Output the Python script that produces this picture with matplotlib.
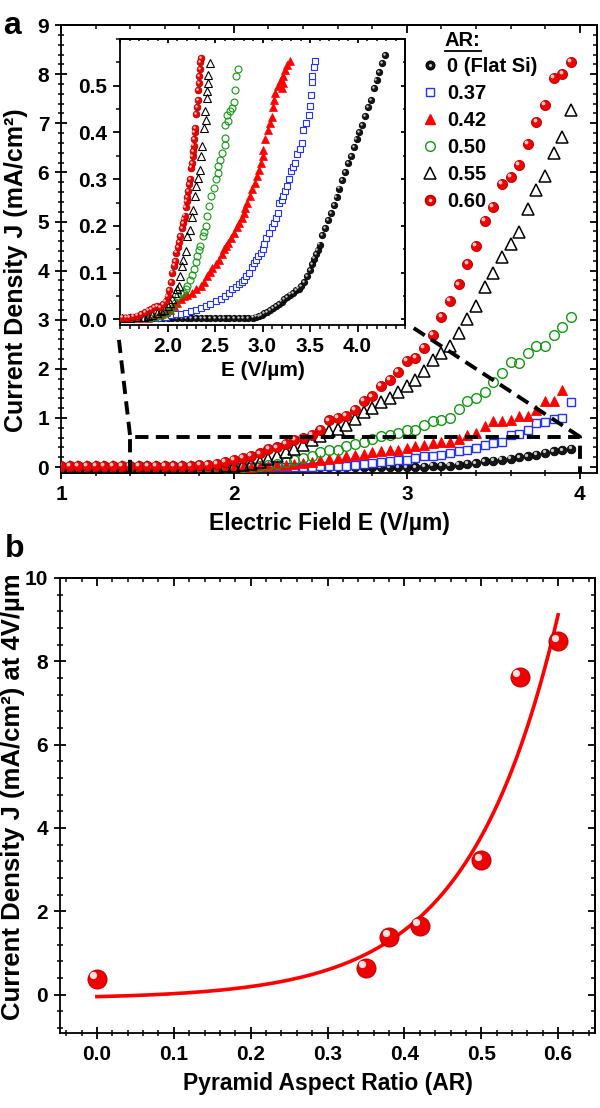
import matplotlib
matplotlib.use('Agg')
import matplotlib.pyplot as plt
import numpy as np
from matplotlib.transforms import offset_copy
from matplotlib.ticker import MultipleLocator, FixedLocator, FormatStrFormatter
from matplotlib.lines import Line2D

plt.rcParams['font.family'] = ['Liberation Sans', 'DejaVu Sans']
plt.rcParams['font.weight'] = 'bold'
plt.rcParams['axes.linewidth'] = 1.3

# ---------------- data: panel a (main) ----------------
E_main = np.round(1.0 + 0.05 * np.arange(60), 2)   # 1.00 ... 3.95 V/um

J_flat = [0.0] * 42 + [0.01, 0.03, 0.03, 0.03, 0.05, 0.07, 0.08, 0.12,
                       0.13, 0.15, 0.17, 0.20, 0.22, 0.25, 0.29, 0.32, 0.34, 0.37]
J_037 = [0.0] * 26 + [0.005, 0.01, 0.01, 0.01,
                      0.02, 0.02, 0.03, 0.03, 0.05, 0.07, 0.08, 0.10, 0.12, 0.14,
                      0.15, 0.18, 0.22, 0.23, 0.25, 0.29, 0.32, 0.34, 0.39, 0.44,
                      0.49, 0.52, 0.66, 0.68, 0.76, 0.90, 0.91, 0.98, 1.00, 1.32]
J_042 = [0.01] * 20 + [0.01, 0.01, 0.01, 0.02, 0.03, 0.04, 0.05, 0.07, 0.08, 0.10,
                       0.14, 0.16, 0.18, 0.22, 0.25, 0.27, 0.30, 0.32, 0.34, 0.35,
                       0.39, 0.42, 0.44, 0.49, 0.52, 0.52, 0.57, 0.66, 0.69, 0.83,
                       0.93, 0.93, 0.95, 1.05, 1.05, 1.17, 1.35, 1.35, 1.56]
J_050 = [0.01] * 20 + [0.01, 0.01, 0.02, 0.03, 0.05, 0.07, 0.10, 0.14, 0.18, 0.23,
                       0.30, 0.35, 0.35, 0.42, 0.47, 0.52, 0.58, 0.63, 0.66, 0.69,
                       0.76, 0.76, 0.86, 0.93, 0.95, 1.00, 1.19, 1.34, 1.41, 1.53,
                       1.73, 1.92, 2.14, 2.11, 2.33, 2.46, 2.46, 2.68, 2.85, 3.06]
J_055 = [0.01] * 19 + [0.02,
                       0.03, 0.04, 0.06, 0.10, 0.16, 0.22, 0.30, 0.37, 0.44, 0.56,
                       0.63, 0.73, 0.78, 0.86, 0.97, 1.12, 1.20, 1.32, 1.41, 1.52,
                       1.65, 1.78, 1.95, 2.18, 2.33, 2.46, 2.73, 3.02, 3.28, 3.67,
                       3.96, 4.27, 4.55, 4.78, 5.25, 5.64, 5.93, 6.40, 6.73, 7.27]
J_060 = [0.02] * 14 + [0.03, 0.03, 0.04, 0.05, 0.07, 0.10,
                       0.14, 0.18, 0.22, 0.28, 0.37, 0.40, 0.48, 0.56, 0.59, 0.65,
                       0.76, 0.95, 1.01, 1.05, 1.17, 1.34, 1.44, 1.66, 1.78, 1.93,
                       2.16, 2.22, 2.43, 2.69, 3.05, 3.38, 3.72, 4.13, 4.51, 5.02,
                       5.30, 5.76, 5.91, 6.15, 6.58, 7.03, 7.37, 7.92, 8.00, 8.25]

labels_AR = ['0 (Flat Si)', '0.37', '0.42', '0.50', '0.55', '0.60']

# ---------------- data: inset ----------------
Ei_flat = [1.50, 1.55, 1.60, 1.65, 1.70, 1.75, 1.80, 1.85, 1.90, 1.95, 2.00, 2.05, 2.10,
           2.15, 2.20, 2.25, 2.30, 2.35, 2.40, 2.45, 2.50, 2.55, 2.60, 2.65, 2.70, 2.75,
           2.80, 2.85, 2.90, 2.93, 2.96, 2.99, 3.02, 3.05, 3.08, 3.11, 3.14, 3.17, 3.20,
           3.23, 3.26, 3.29, 3.32, 3.35, 3.38, 3.41, 3.44, 3.47, 3.50, 3.52, 3.54, 3.56,
           3.58, 3.60, 3.63, 3.66, 3.69, 3.72, 3.75, 3.78, 3.81, 3.84, 3.87, 3.90, 3.93,
           3.96, 3.99, 4.02, 4.05, 4.08, 4.11, 4.14, 4.17, 4.20, 4.23, 4.26, 4.29]
Ji_flat = [0.002] * 28 + [0.004, 0.006, 0.008, 0.010, 0.013, 0.016, 0.020, 0.024, 0.028,
                          0.033, 0.038, 0.043, 0.048, 0.053, 0.057, 0.062, 0.066, 0.072,
                          0.080, 0.092, 0.105, 0.118, 0.130, 0.140, 0.148, 0.160, 0.180,
                          0.195, 0.212, 0.228, 0.245, 0.262, 0.280, 0.298, 0.316, 0.335,
                          0.350, 0.368, 0.385, 0.400, 0.415, 0.435, 0.455, 0.470, 0.495,
                          0.512, 0.530, 0.548, 0.565]
Ei_037 = [1.52, 1.62, 1.72, 1.82, 1.90, 1.98, 2.04, 2.09, 2.14, 2.19, 2.25, 2.30, 2.35,
          2.40, 2.45, 2.51, 2.56, 2.61, 2.65, 2.68, 2.72, 2.75, 2.78, 2.80, 2.83, 2.86,
          2.89, 2.91, 2.93, 2.95, 2.98, 3.00, 3.02, 3.04, 3.07, 3.10, 3.12, 3.14, 3.16,
          3.17, 3.20, 3.22, 3.24, 3.26, 3.28, 3.30, 3.32, 3.34, 3.36, 3.39, 3.42, 3.43,
          3.46, 3.49, 3.50, 3.51, 3.52, 3.52, 3.54, 3.55]
Ji_037 = [0.002, 0.002, 0.003, 0.003, 0.004, 0.006, 0.009, 0.011, 0.012, 0.014, 0.017,
          0.021, 0.024, 0.028, 0.033, 0.039, 0.044, 0.050, 0.057, 0.064, 0.070, 0.075,
          0.080, 0.085, 0.092, 0.100, 0.112, 0.121, 0.128, 0.135, 0.142, 0.150, 0.162,
          0.175, 0.185, 0.197, 0.207, 0.218, 0.228, 0.249, 0.256, 0.263, 0.275, 0.285,
          0.300, 0.317, 0.326, 0.335, 0.353, 0.365, 0.378, 0.406, 0.420, 0.438, 0.456,
          0.481, 0.509, 0.520, 0.541, 0.552]
Ei_042 = [1.52, 1.60, 1.70, 1.79, 1.86, 1.93, 1.98, 2.03, 2.07, 2.10, 2.14, 2.17, 2.21,
          2.26, 2.30, 2.35, 2.38, 2.42, 2.45, 2.47, 2.51, 2.54, 2.57, 2.59, 2.62, 2.64,
          2.67, 2.70, 2.73, 2.75, 2.78, 2.80, 2.82, 2.84, 2.87, 2.89, 2.92, 2.94, 2.96,
          2.98, 3.00, 3.01, 3.03, 3.06, 3.08, 3.10, 3.11, 3.12, 3.13, 3.16, 3.19, 3.20,
          3.22, 3.22, 3.24, 3.26, 3.29]
Ji_042 = [0.003, 0.003, 0.004, 0.004, 0.008, 0.011, 0.016, 0.021, 0.028, 0.036, 0.043,
          0.050, 0.053, 0.057, 0.064, 0.071, 0.080, 0.093, 0.102, 0.110, 0.119, 0.128,
          0.140, 0.150, 0.157, 0.164, 0.175, 0.185, 0.197, 0.207, 0.218, 0.228, 0.238,
          0.249, 0.264, 0.278, 0.292, 0.306, 0.320, 0.335, 0.350, 0.363, 0.385, 0.406,
          0.420, 0.434, 0.455, 0.470, 0.484, 0.500, 0.513, 0.495, 0.505, 0.520, 0.534,
          0.545, 0.552]
Ei_050 = [1.55, 1.65, 1.75, 1.82, 1.88, 1.93, 1.97, 2.00, 2.03, 2.05, 2.08, 2.11, 2.14,
          2.16, 2.19, 2.21, 2.24, 2.26, 2.28, 2.30, 2.31, 2.33, 2.34, 2.37, 2.38, 2.40,
          2.42, 2.44, 2.46, 2.49, 2.51, 2.53, 2.53, 2.55, 2.57, 2.60, 2.61, 2.61, 2.64,
          2.63, 2.66, 2.68, 2.70, 2.71, 2.72, 2.74]
Ji_050 = [0.002, 0.002, 0.002, 0.003, 0.005, 0.007, 0.011, 0.015, 0.020, 0.025, 0.035,
          0.050, 0.054, 0.057, 0.065, 0.071, 0.085, 0.095, 0.107, 0.122, 0.135, 0.148,
          0.157, 0.178, 0.188, 0.199, 0.221, 0.242, 0.263, 0.281, 0.300, 0.314, 0.328,
          0.342, 0.356, 0.374, 0.388, 0.417, 0.424, 0.438, 0.445, 0.452, 0.466, 0.490,
          0.520, 0.536]
Ei_055 = [1.52, 1.60, 1.68, 1.75, 1.79, 1.84, 1.89, 1.93, 1.96, 2.00, 2.03, 2.05, 2.08,
          2.10, 2.12, 2.13, 2.15, 2.16, 2.19, 2.21, 2.24, 2.26, 2.27, 2.29, 2.30, 2.32,
          2.34, 2.35, 2.36, 2.38, 2.40, 2.39, 2.42, 2.42, 2.43, 2.43, 2.45]
Ji_055 = [0.003, 0.004, 0.005, 0.006, 0.007, 0.010, 0.014, 0.018, 0.021, 0.028, 0.036,
          0.043, 0.057, 0.064, 0.071, 0.093, 0.114, 0.128, 0.146, 0.178, 0.192, 0.220,
          0.235, 0.263, 0.285, 0.303, 0.320, 0.349, 0.370, 0.410, 0.427, 0.445, 0.474,
          0.488, 0.505, 0.523, 0.548]
Ei_060 = [1.52, 1.56, 1.60, 1.64, 1.68, 1.72, 1.76, 1.80, 1.83, 1.86, 1.89, 1.92, 1.95,
          1.98, 2.00, 2.02, 2.04, 2.05, 2.07, 2.08, 2.09, 2.11, 2.12, 2.13, 2.15, 2.16,
          2.17, 2.18, 2.19, 2.20, 2.21, 2.22, 2.23, 2.24, 2.25, 2.26, 2.265, 2.27, 2.275,
          2.28, 2.285, 2.29, 2.30, 2.31, 2.32, 2.325, 2.33, 2.335, 2.34, 2.345, 2.35]
Ji_060 = [0.004, 0.004, 0.005, 0.006, 0.008, 0.012, 0.016, 0.020, 0.022, 0.026, 0.028,
          0.027, 0.032, 0.040, 0.050, 0.062, 0.080, 0.100, 0.115, 0.125, 0.143, 0.155,
          0.165, 0.178, 0.195, 0.206, 0.215, 0.222, 0.240, 0.253, 0.262, 0.275, 0.290,
          0.300, 0.325, 0.335, 0.350, 0.360, 0.372, 0.385, 0.400, 0.410, 0.440, 0.455,
          0.470, 0.490, 0.505, 0.520, 0.535, 0.550, 0.560]
inset_yticks = [0.0, 0.1, 0.2, 0.3, 0.4, 0.5]
inset_xticks = [2.0, 2.5, 3.0, 3.5, 4.0]

# zoom guide (dashed) in panel-a data units
box_E = [1.4, 1.4, 4.0, 4.0]
box_J = [-0.12, 0.62, 0.62, -0.12]
guide_left_E, guide_left_J = [1.335, 1.4], [2.59, 0.62]
guide_right_E, guide_right_J = [3.04, 4.0], [2.83, 0.62]

# ---------------- data: panel b ----------------
AR_b = [0.0, 0.35, 0.38, 0.42, 0.50, 0.55, 0.60]
J_b = [0.38, 0.65, 1.39, 1.65, 3.22, 7.63, 8.48]
# exponential fit: J = y0 + A*exp(AR/t)
fit_y0, fit_A, fit_t = -0.10, 0.0525, 0.1161

# ---------------- figure ----------------
fig = plt.figure(figsize=(6, 11.08), dpi=100)
axA = fig.add_axes([0.1017, 0.5731, 0.8933, 0.4043])
axB = fig.add_axes([0.1, 0.06769, 0.8917, 0.41065])
axI = fig.add_axes([0.2, 0.70668, 0.475, 0.2581])

RED = '#ff0000'
BLUE = '#2233ff'
GREEN = '#119911'


def spheres(ax, x, y, base, edge, hl, ms, z):
    ax.plot(x, y, 'o', ms=ms, mfc=base, mec=edge, mew=0.6, ls='none', zorder=z)
    tr = offset_copy(ax.transData, fig=fig, x=-ms * 0.18, y=ms * 0.18, units='points')
    ax.plot(x, y, 'o', ms=ms * 0.38, mfc=hl, mec='none', ls='none', transform=tr,
            zorder=z + 0.01)


def style_axes(ax, xmaj, xmin, ymaj, ymin, lb_dir='inout', tlen=9, mlen=5, fs=15):
    ax.xaxis.set_major_locator(MultipleLocator(xmaj))
    ax.xaxis.set_minor_locator(MultipleLocator(xmin))
    ax.yaxis.set_major_locator(MultipleLocator(ymaj))
    ax.yaxis.set_minor_locator(MultipleLocator(ymin))
    ax.tick_params(which='major', direction=lb_dir, length=tlen, width=1.3,
                   labelsize=fs, pad=4)
    ax.tick_params(which='minor', direction=lb_dir, length=mlen, width=1.1)
    sx = ax.secondary_xaxis('top')
    sx.xaxis.set_major_locator(MultipleLocator(xmaj))
    sx.xaxis.set_minor_locator(MultipleLocator(xmin))
    sx.tick_params(which='major', direction='in', length=tlen * 0.6, width=1.3,
                   labeltop=False)
    sx.tick_params(which='minor', direction='in', length=mlen * 0.6, width=1.1)
    sy = ax.secondary_yaxis('right')
    sy.yaxis.set_major_locator(MultipleLocator(ymaj))
    sy.yaxis.set_minor_locator(MultipleLocator(ymin))
    sy.tick_params(which='major', direction='in', length=tlen * 0.6, width=1.3,
                   labelright=False)
    sy.tick_params(which='minor', direction='in', length=mlen * 0.6, width=1.1)
    for s in list(sx.spines.values()) + list(sy.spines.values()):
        s.set_linewidth(1.3)


# ---- panel a ----
axA.set_xlim(1.0, 4.1)
axA.set_ylim(-0.12, 9)
style_axes(axA, 1, 0.2, 1, 0.2)
axA.xaxis.set_major_formatter(FormatStrFormatter('%d'))
axA.yaxis.set_major_formatter(FormatStrFormatter('%d'))

spheres(axA, E_main[:len(J_flat)], J_flat, '#151515', '#000000', '#c8c8c8', 6.2, 3)
axA.plot(E_main[:len(J_037)], J_037, 's', ms=6.0, mfc='white', mec=BLUE, mew=1.0,
         ls='none', zorder=4)
axA.plot(E_main[:len(J_042)], J_042, '^', ms=7.5, mfc=RED, mec=RED, mew=0.6,
         ls='none', zorder=5)
axA.plot(E_main[:len(J_050)], J_050, 'o', ms=7.0, mfc='none', mec=GREEN, mew=1.0,
         ls='none', zorder=6)
axA.plot(E_main[:len(J_055)], J_055, '^', ms=8.0, mfc='none', mec='black', mew=1.1,
         ls='none', zorder=7)
spheres(axA, E_main[:len(J_060)], J_060, '#f00000', '#b00000', '#ffc8c8', 7.3, 8)

dash = (0, (3.4, 1.9))
axA.plot(box_E, box_J, color='black', lw=2.8, ls=dash, zorder=10, clip_on=False)
axA.plot(guide_left_E, guide_left_J, color='black', lw=2.8, ls=dash, zorder=10)
axA.plot(guide_right_E, guide_right_J, color='black', lw=2.8, ls=dash, zorder=10)

axA.set_xlabel('Electric Field E (V/µm)', fontsize=16.5, fontweight='bold', labelpad=6)
axA.set_ylabel('Current Density J (mA/cm²)', fontsize=18, fontweight='bold')
axA.yaxis.set_label_coords(-0.0616, 0.453)

# legend
h_flat = (Line2D([], [], marker='o', ms=6.2, mfc='#151515', mec='black', ls='none'),
          Line2D([], [], marker='o', ms=2.2, mfc='#c8c8c8', mec='none', ls='none'))
h_037 = Line2D([], [], marker='s', ms=6.0, mfc='white', mec=BLUE, mew=1.0, ls='none')
h_042 = Line2D([], [], marker='^', ms=7.5, mfc=RED, mec=RED, ls='none')
h_050 = Line2D([], [], marker='o', ms=7.0, mfc='none', mec=GREEN, mew=1.0, ls='none')
h_055 = Line2D([], [], marker='^', ms=8.0, mfc='none', mec='black', mew=1.1, ls='none')
h_060 = (Line2D([], [], marker='o', ms=7.3, mfc='#f00000', mec='#b00000', ls='none'),
         Line2D([], [], marker='o', ms=2.6, mfc='#ffc8c8', mec='none', ls='none'))
leg = axA.legend([h_flat, h_037, h_042, h_050, h_055, h_060], labels_AR,
                 loc='upper left', bbox_to_anchor=(0.670, 0.928), frameon=False,
                 handlelength=1.0, handletextpad=0.35,
                 labelspacing=0.395, borderpad=0, borderaxespad=0,
                 prop={'weight': 'bold', 'size': 14.5})
ar_txt = axA.text(0.716, 0.966, 'AR:', transform=axA.transAxes,
                  fontsize=14.5, fontweight='bold', ha='left', va='center')

fig.text(0.005, 0.99, 'a', fontsize=23, fontweight='bold', va='top', ha='left')
fig.text(0.008, 0.518, 'b', fontsize=23, fontweight='bold', va='top', ha='left')

# ---- inset ----
axI.set_xlim(1.5, 4.5)
axI.set_ylim(-0.012, 0.6)
style_axes(axI, 0.5, 0.1, 0.1, 0.05, lb_dir='out', tlen=5, mlen=3, fs=15)
axI.xaxis.set_major_locator(FixedLocator(inset_xticks))
axI.yaxis.set_major_locator(FixedLocator(inset_yticks))
axI.xaxis.set_major_formatter(FormatStrFormatter('%.1f'))
axI.yaxis.set_major_formatter(FormatStrFormatter('%.1f'))
axI.set_xlabel('E (V/µm)', fontsize=15, fontweight='bold', labelpad=3)

spheres(axI, Ei_flat, Ji_flat, '#151515', '#000000', '#c8c8c8', 4.6, 3)
axI.plot(Ei_037, Ji_037, 's', ms=4.3, mfc='white', mec=BLUE, mew=0.8, ls='none', zorder=4)
axI.plot(Ei_042, Ji_042, '^', ms=5.5, mfc=RED, mec=RED, mew=0.5, ls='none', zorder=5)
axI.plot(Ei_050, Ji_050, 'o', ms=5.0, mfc='none', mec=GREEN, mew=0.8, ls='none', zorder=6)
axI.plot(Ei_055, Ji_055, '^', ms=5.5, mfc='none', mec='black', mew=0.8, ls='none', zorder=7)
spheres(axI, Ei_060, Ji_060, '#f00000', '#b00000', '#ffc8c8', 4.8, 8)

# ---- panel b ----
axB.set_xlim(-0.048, 0.648)
axB.set_ylim(-0.92, 10)
style_axes(axB, 0.1, 0.02, 2, 0.4)
axB.xaxis.set_major_formatter(FormatStrFormatter('%.1f'))
axB.yaxis.set_major_formatter(FormatStrFormatter('%d'))

ar_fit = np.linspace(0.0, 0.6, 200)
axB.plot(ar_fit, fit_y0 + fit_A * np.exp(ar_fit / fit_t), color=RED, lw=2.6, zorder=3)
spheres(axB, AR_b, J_b, '#f00000', '#b00000', '#ffe0e0', 13.8, 5)

axB.set_xlabel('Pyramid Aspect Ratio (AR)', fontsize=16.5, fontweight='bold', labelpad=6)
axB.set_ylabel('Current Density J (mA/cm²) at 4V/µm', fontsize=18.5, fontweight='bold')
axB.yaxis.set_label_coords(-0.065, 0.519)

# underline of the legend title
fig.canvas.draw()
bb = ar_txt.get_window_extent()
fig.add_artist(Line2D([bb.x0 / fig.bbox.width, bb.x1 / fig.bbox.width],
                      [(bb.y0 - 1.0) / fig.bbox.height] * 2,
                      color='black', lw=1.3, transform=fig.transFigure))

fig.savefig('out.png', dpi=100)
